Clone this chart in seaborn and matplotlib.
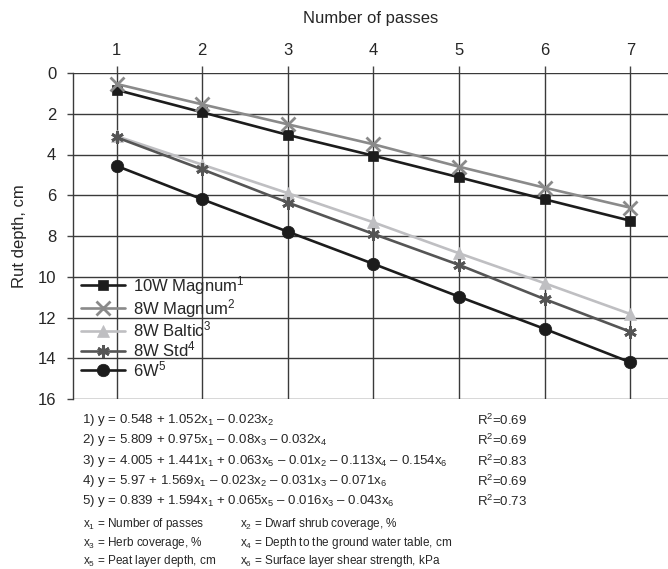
import matplotlib
matplotlib.use("Agg")
import matplotlib.pyplot as plt
import seaborn as sns
import pandas as pd

# data
passes = [1, 2, 3, 4, 5, 6, 7]
magnum10 = [0.83, 1.93, 3.04, 4.06, 5.12, 6.20, 7.25]
magnum8 = [0.54, 1.54, 2.52, 3.50, 4.60, 5.63, 6.61]
baltic8 = [3.10, 4.50, 5.90, 7.33, 8.85, 10.32, 11.83]
std8 = [3.16, 4.73, 6.36, 7.90, 9.42, 11.10, 12.70]
w6 = [4.56, 6.20, 7.79, 9.37, 10.98, 12.56, 14.20]

labels = ["10W Magnum$^1$", "8W Magnum$^2$", "8W Baltic$^3$", "8W Std$^4$", "6W$^5$"]
series = [magnum10, magnum8, baltic8, std8, w6]
colors = ["#1c1c1c", "#8a8a8a", "#bfbfc2", "#555555", "#1c1c1c"]
markers = ["s", "x", "^", (6, 2, 0), "o"]
msizes = [7.5, 10, 9, 9, 9]

equations = [
    "1) y = 0.548 + 1.052x$_1$ – 0.023x$_2$",
    "2) y = 5.809 + 0.975x$_1$ – 0.08x$_3$ – 0.032x$_4$",
    "3) y = 4.005 + 1.441x$_1$ + 0.063x$_5$ – 0.01x$_2$ – 0.113x$_4$ – 0.154x$_6$",
    "4) y = 5.97 + 1.569x$_1$ – 0.023x$_2$ – 0.031x$_3$ – 0.071x$_6$",
    "5) y = 0.839 + 1.594x$_1$ + 0.065x$_5$ – 0.016x$_3$ – 0.043x$_6$",
]
r2 = ["R$^2$=0.69", "R$^2$=0.69", "R$^2$=0.83", "R$^2$=0.69", "R$^2$=0.73"]
var_left = ["x$_1$ = Number of passes", "x$_3$ = Herb coverage, %", "x$_5$ = Peat layer depth, cm"]
var_right = ["x$_2$ = Dwarf shrub coverage, %", "x$_4$ = Depth to the ground water table, cm",
             "x$_6$ = Surface layer shear strength, kPa"]

sns.set_style("white")
plt.rcParams["font.family"] = ["Liberation Sans", "DejaVu Sans"]
plt.rcParams["mathtext.fontset"] = "custom"
plt.rcParams["mathtext.rm"] = "Liberation Sans"
plt.rcParams["mathtext.it"] = "Liberation Sans:italic"

fig = plt.figure(figsize=(6.68, 5.69), dpi=100)
ax = fig.add_axes([73 / 668, 1 - 399 / 569, 595 / 668, 326 / 569])

for ys, lab, c, m, ms in zip(series, labels, colors, markers, msizes):
    df = pd.DataFrame({"passes": passes, "depth": ys})
    sns.lineplot(data=df, x="passes", y="depth", ax=ax, color=c, marker=m, markersize=ms,
                 markeredgecolor=c, markeredgewidth=2 if m in ("x", (6, 2, 0)) else 0.5,
                 linewidth=1.9, label=lab)

ax.set_xlim(0.49, 7.44)
ax.set_ylim(16, 0)
ax.set_xticks(passes)
ax.set_yticks(range(0, 17, 2))
ax.xaxis.tick_top()
ax.xaxis.set_label_position("top")
ax.set_xlabel("Number of passes", fontsize=12, labelpad=14)
ax.set_ylabel("Rut depth, cm", fontsize=12, labelpad=8)
ax.tick_params(axis="x", top=True, length=5, width=1, color="#444444", pad=6, labelsize=12)
ax.tick_params(axis="y", left=True, length=4, width=1, color="#444444", pad=8, labelsize=12)
ax.grid(True, color="#3a3a3a", linewidth=1.0)
for side in ["top", "right", "bottom"]:
    ax.spines[side].set_visible(False)
ax.spines["left"].set_color("#3a3a3a")
ax.spines["left"].set_linewidth(1.0)

ax.legend(loc="lower left", bbox_to_anchor=(0.0, 0.035), frameon=False, fontsize=12,
          handlelength=2.6, handletextpad=0.5, labelspacing=0.0, borderaxespad=0.1)

eq_y = [420, 440, 461, 481, 501]
for yy, eq, r in zip(eq_y, equations, r2):
    fig.text(82 / 668, 1 - yy / 569, eq, fontsize=9.5, va="center", ha="left")
    fig.text(477 / 668, 1 - yy / 569, r, fontsize=9.5, va="center", ha="left")

var_y = [524, 543, 561]
for yy, a, b in zip(var_y, var_left, var_right):
    fig.text(83 / 668, 1 - yy / 569, a, fontsize=8.5, va="center", ha="left")
    fig.text(240 / 668, 1 - yy / 569, b, fontsize=8.5, va="center", ha="left")

fig.savefig("out.png", dpi=100)
